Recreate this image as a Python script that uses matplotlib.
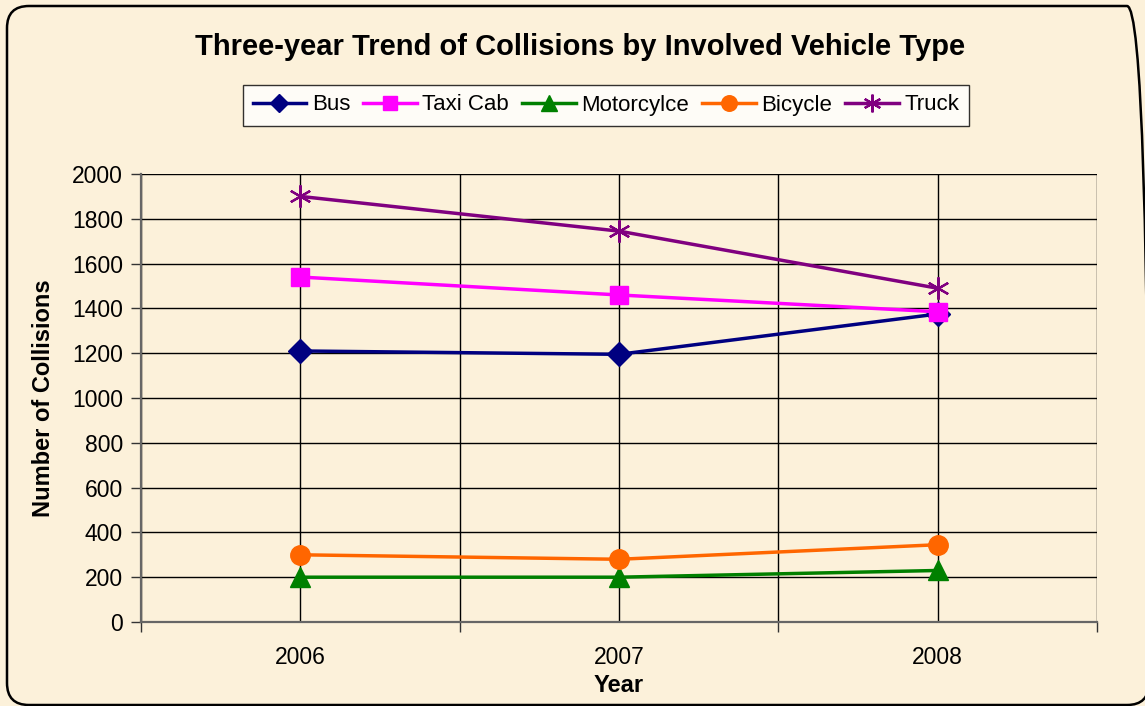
import numpy as np
import matplotlib
matplotlib.use('Agg')
import matplotlib.pyplot as plt
from matplotlib.patches import FancyBboxPatch

plt.rcParams['font.family'] = ['Liberation Sans', 'DejaVu Sans']

# Данные
years = ['2006', '2007', '2008']
bus = [1210, 1195, 1375]
taxi = [1540, 1460, 1385]
motorcycle = [200, 200, 230]
bicycle = [300, 280, 345]
truck = [1900, 1745, 1490]

bg = '#FCF1DA'
fig = plt.figure(figsize=(11.45, 7.06), dpi=100, facecolor=bg)

# Рамка со скруглёнными углами (в дюймах)
frame = FancyBboxPatch((0.07, 0.01), 11.42, 6.99,
                       boxstyle='round,pad=0,rounding_size=0.22',
                       transform=fig.dpi_scale_trans, facecolor='none',
                       edgecolor='black', linewidth=1.8)
fig.patches.append(frame)

ax = fig.add_axes([141 / 1145, 1 - 622 / 706, (1097 - 141) / 1145, (622 - 174) / 706])
ax.set_facecolor('none')

x = np.arange(len(years))
lw = 2.5
ax.plot(x, bus, color='#000080', marker='D', markersize=12, linewidth=lw, label='Bus', zorder=5)
ax.plot(x, taxi, color='#FF00FF', marker='s', markersize=13, linewidth=lw, label='Taxi Cab', zorder=5)
ax.plot(x, motorcycle, color='#008000', marker='^', markersize=14, linewidth=lw, label='Motorcylce', zorder=5)
ax.plot(x, bicycle, color='#FF6600', marker='o', markersize=14, linewidth=lw, label='Bicycle', zorder=5)
ax.plot(x, truck, color='#800080', marker=(6, 2, 0), markersize=16, markeredgewidth=1.6,
        linewidth=lw, label='Truck', zorder=5)

ax.set_xlim(-0.5, 2.5)
ax.set_ylim(0, 2000)
ax.set_yticks(np.arange(0, 2001, 200))
ax.set_xticks(x)
ax.set_xticklabels(years)
ax.set_xticks([-0.5, 0.5, 1.5, 2.5], minor=True)

ax.tick_params(axis='x', which='major', length=0, labelsize=16.5, pad=17)
ax.tick_params(axis='x', which='minor', length=7, width=1, color='#333333', direction='out')
ax.tick_params(axis='y', length=7, width=1, color='#333333', labelsize=16.5, pad=6)

ax.grid(True, which='major', color='black', linewidth=1)
ax.grid(True, which='minor', axis='x', color='black', linewidth=1)
ax.set_axisbelow(True)

for s in ['top', 'right']:
    ax.spines[s].set_visible(False)
ax.spines['left'].set_color('#666666')
ax.spines['left'].set_linewidth(1.6)
ax.spines['bottom'].set_color('#666666')
ax.spines['bottom'].set_linewidth(1.6)

ax.set_xlabel('Year', fontsize=17, fontweight='bold', labelpad=4)
ax.set_ylabel('Number of Collisions', fontsize=17, fontweight='bold', labelpad=12)

fig.text(580 / 1145, 1 - 47 / 706, 'Three-year Trend of Collisions by Involved Vehicle Type',
         ha='center', va='center', fontsize=21, fontweight='bold')

leg = fig.legend(loc='center', bbox_to_anchor=(606 / 1145, 1 - 105 / 706), ncol=5,
                 fontsize=16, frameon=True, fancybox=False, edgecolor='black',
                 handlelength=2.4, handletextpad=0.25, columnspacing=0.6,
                 borderpad=0.45, markerscale=0.8)
leg.get_frame().set_linewidth(1)
leg.get_frame().set_facecolor('white')

plt.savefig('out.png', dpi=100, facecolor=bg)
